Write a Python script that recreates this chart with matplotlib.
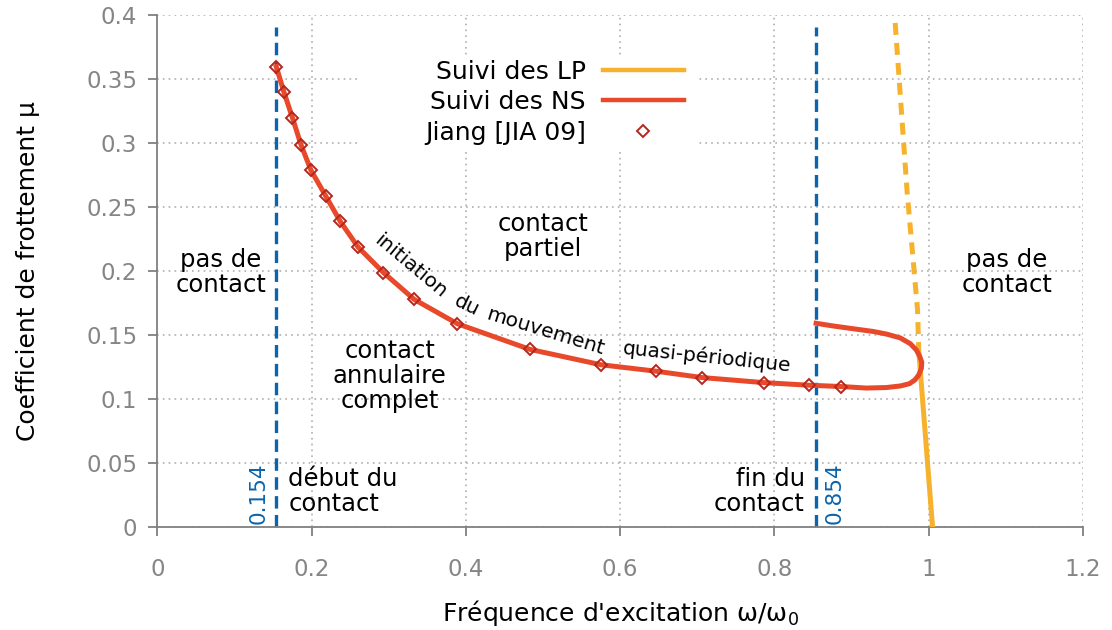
import matplotlib
matplotlib.use("Agg")
import matplotlib.pyplot as plt
from matplotlib.patches import Rectangle
from matplotlib.lines import Line2D

plt.rcParams['font.family'] = ['DejaVu Sans']
plt.rcParams['lines.scale_dashes'] = False
plt.rcParams['mathtext.fontset'] = 'dejavusans'

# ---------------- data ----------------
# Jiang [JIA 09] reference points
jiang_x = [0.154, 0.164, 0.175, 0.186, 0.199, 0.218, 0.237, 0.260, 0.293, 0.333,
           0.389, 0.483, 0.575, 0.646, 0.706, 0.787, 0.845, 0.886]
jiang_y = [0.360, 0.340, 0.320, 0.299, 0.279, 0.259, 0.239, 0.219, 0.199, 0.178,
           0.159, 0.139, 0.127, 0.122, 0.117, 0.113, 0.111, 0.110]

# Suivi des NS (Neimark-Sacker continuation)
ns_x = [0.154, 0.164, 0.175, 0.186, 0.199, 0.218, 0.237, 0.260, 0.293, 0.333,
        0.389, 0.483, 0.575, 0.646, 0.706, 0.787, 0.845, 0.886, 0.919, 0.945,
        0.963, 0.975, 0.982, 0.987, 0.9905, 0.991, 0.9885, 0.984, 0.976, 0.963,
        0.945, 0.928, 0.900, 0.876, 0.854]
ns_y = [0.360, 0.340, 0.320, 0.299, 0.279, 0.259, 0.239, 0.219, 0.199, 0.178,
        0.159, 0.139, 0.127, 0.122, 0.117, 0.113, 0.111, 0.110, 0.1088, 0.1092,
        0.1104, 0.1122, 0.1151, 0.1190, 0.1242, 0.1290, 0.1333, 0.1385, 0.1435, 0.1480,
        0.1510, 0.1530, 0.1553, 0.1573, 0.1594]

# Suivi des LP (limit point continuation): solid part and dashed part
lp_solid_x = [0.987, 1.005]
lp_solid_y = [0.1385, 0.0]
lp_dash_x = [0.9565, 0.972, 0.9855, 0.987]
lp_dash_y = [0.394, 0.262, 0.170, 0.1385]

# contact start / end frequencies
contact_start = 0.154
contact_end = 0.854

xticks = [0, 0.2, 0.4, 0.6, 0.8, 1.0, 1.2]
xtick_labels = ['0', '0.2', '0.4', '0.6', '0.8', '1', '1.2']
yticks = [0, 0.05, 0.1, 0.15, 0.2, 0.25, 0.3, 0.35, 0.4]
ytick_labels = ['0', '0.05', '0.1', '0.15', '0.2', '0.25', '0.3', '0.35', '0.4']

# ---------------- styles ----------------
c_lp = '#F7B22D'
c_ns = '#E8492A'
c_blue = '#0B64AC'
c_mark = '#B5261E'
c_gray = '#808080'

fig = plt.figure(figsize=(11.12, 6.30), dpi=100)
ax = fig.add_axes([0.1416, 0.1630, 0.8323, 0.8127])

ax.set_xlim(0, 1.2)
ax.set_ylim(0, 0.4)
ax.set_xticks(xticks)
ax.set_xticklabels(xtick_labels)
ax.set_yticks(yticks)
ax.set_yticklabels(ytick_labels)

for s in ['top', 'right']:
    ax.spines[s].set_visible(False)
for s in ['left', 'bottom']:
    ax.spines[s].set_color(c_gray)
    ax.spines[s].set_linewidth(1.3)
ax.tick_params(direction='out', length=6.5, width=1.3, color=c_gray,
               labelcolor='#858585', labelsize=16.5)
ax.tick_params(axis='x', pad=15.5)
ax.tick_params(axis='y', pad=8)

ax.set_axisbelow(True)
ax.grid(True, color='#a8a8a8', linestyle=(0, (1.2, 3.0)), linewidth=1.1)

# legend background (white box hiding grid)
bg = Rectangle((0.219, 0.733), 0.364, 0.19, transform=ax.transAxes,
               facecolor='white', edgecolor='none', zorder=1)
ax.add_patch(bg)

# vertical dashed lines
ax.plot([contact_start, contact_start], [0, 0.391], color=c_blue, lw=2.4,
        linestyle=(0, (9.0, 4.6)), zorder=2)
ax.plot([contact_end, contact_end], [0, 0.391], color=c_blue, lw=2.4,
        linestyle=(0, (9.0, 4.6)), zorder=2)

# curves
ax.plot(lp_dash_x, lp_dash_y, color=c_lp, lw=3.6, linestyle=(0, (8.6, 5.8)), zorder=3)
ax.plot(lp_solid_x, lp_solid_y, color=c_lp, lw=3.6, zorder=3, solid_capstyle='butt')
ax.plot(ns_x, ns_y, color=c_ns, lw=3.6, zorder=4, solid_joinstyle='round')
ax.plot(jiang_x, jiang_y, linestyle='none', marker='D', markersize=6,
        markerfacecolor='none', markeredgecolor=c_mark, markeredgewidth=1.4, zorder=5)

# legend drawn manually (gnuplot style: right-aligned text, sample on right)
leg_fs = 18
tx = 0.463
ax.text(tx, 0.8898, 'Suivi des LP', transform=ax.transAxes, ha='right',
        va='center', fontsize=leg_fs)
ax.text(tx, 0.8310, 'Suivi des NS', transform=ax.transAxes, ha='right',
        va='center', fontsize=leg_fs)
ax.text(tx, 0.7710, 'Jiang [JIA 09]', transform=ax.transAxes, ha='right',
        va='center', fontsize=leg_fs)
ax.add_line(Line2D([0.4814, 0.5689], [0.8932, 0.8932], transform=ax.transAxes,
                   color=c_lp, lw=3.2, zorder=6))
ax.add_line(Line2D([0.4814, 0.5689], [0.8346, 0.8346], transform=ax.transAxes,
                   color=c_ns, lw=3.2, zorder=6))
ax.add_line(Line2D([0.5250], [0.7746], transform=ax.transAxes, marker='D',
                   markersize=6, markerfacecolor='none', markeredgecolor=c_mark,
                   markeredgewidth=1.4, linestyle='none', zorder=6))

# region annotations
fs = 17.5
ls = 1.06
ax.text(0.500, 0.227, 'contact\npartiel', ha='center', va='center', fontsize=fs,
        linespacing=ls)
ax.text(0.082, 0.199, 'pas de\ncontact', ha='center', va='center', fontsize=fs,
        linespacing=ls)
ax.text(1.101, 0.199, 'pas de\ncontact', ha='center', va='center', fontsize=fs,
        linespacing=ls)
ax.text(0.301, 0.118, 'contact\nannulaire\ncomplet', ha='center', va='center',
        fontsize=fs, linespacing=ls)
ax.text(0.1695, 0.028, 'début du\ncontact', ha='left', va='center', fontsize=fs,
        linespacing=ls)
ax.text(0.8395, 0.028, 'fin du\ncontact', ha='right', va='center', fontsize=fs,
        linespacing=ls)
ax.text(0.1306, 0.027, '0.154', ha='center', va='center', rotation=90,
        color=c_blue, fontsize=15.5)
ax.text(0.8775, 0.027, '0.854', ha='center', va='center', rotation=90,
        color=c_blue, fontsize=15.5)

# curved label along the NS curve
cfs = 14.5
for word, x, y, ang in [('initiation', 0.3280, 0.2040, -40),
                        ('du', 0.4005, 0.1735, -26),
                        ('mouvement', 0.5030, 0.1525, -17),
                        ('quasi-périodique', 0.7120, 0.1330, -6)]:
    ax.text(x, y, word, ha='center', va='center', rotation=ang,
            rotation_mode='anchor', fontsize=cfs)

ax.set_xlabel("Fréquence d'excitation ω/ω$_0$", fontsize=18, labelpad=12)
ax.set_ylabel('Coefficient de frottement μ', fontsize=18, labelpad=33)

fig.savefig('out.png', dpi=100)
